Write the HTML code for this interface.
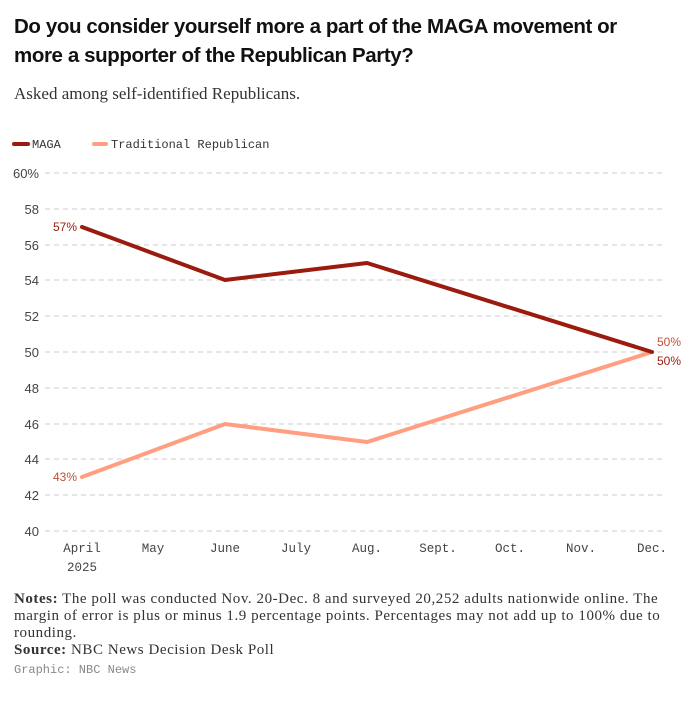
<!DOCTYPE html><html><head><style>
body{margin:0;width:696px;height:705px;background:#fff;font-family:"Liberation Sans",sans-serif;color:#111;position:relative;overflow:hidden}
.t{position:absolute;left:14px;top:12px;font-size:20.5px;font-weight:bold;line-height:29px;letter-spacing:-0.4px;width:650px}
.s{position:absolute;left:14px;top:84px;font-family:"Liberation Serif",serif;font-size:17px;color:#333}
.n{position:absolute;left:14px;top:591px;width:668px;font-family:"Liberation Serif",serif;font-size:15px;letter-spacing:0.55px;line-height:17px;color:#333}
.m{font-family:"Liberation Mono",monospace}
</style></head><body>
<div class="t">Do you consider yourself more a part of the MAGA movement or more a supporter of the Republican Party?</div>
<div class="s">Asked among self-identified Republicans.</div>
<svg width="696" height="705" style="position:absolute;left:0;top:0">
<g font-family="Liberation Mono,monospace" font-size="12" fill="#333">
<line x1="14" y1="144" x2="28" y2="144" stroke="#9b1c0f" stroke-width="4" stroke-linecap="round"/>
<text x="32" y="148">MAGA</text>
<line x1="94" y1="144" x2="106" y2="144" stroke="#ff9f80" stroke-width="4" stroke-linecap="round"/>
<text x="111" y="148">Traditional Republican</text>
</g>
<g stroke="#ccc" stroke-dasharray="5,4" stroke-width="1">
<line x1="45" x2="665" y1="173" y2="173"/><line x1="45" x2="665" y1="209" y2="209"/><line x1="45" x2="665" y1="245" y2="245"/><line x1="45" x2="665" y1="280" y2="280"/><line x1="45" x2="665" y1="316" y2="316"/><line x1="45" x2="665" y1="352" y2="352"/><line x1="45" x2="665" y1="388" y2="388"/><line x1="45" x2="665" y1="424" y2="424"/><line x1="45" x2="665" y1="459" y2="459"/><line x1="45" x2="665" y1="495" y2="495"/><line x1="45" x2="665" y1="531" y2="531"/>
</g>
<g font-family="Liberation Sans,sans-serif" font-size="13" fill="#444" text-anchor="end">
<text x="39" y="178">60%</text><text x="39" y="214">58</text><text x="39" y="250">56</text><text x="39" y="285">54</text><text x="39" y="321">52</text><text x="39" y="357">50</text><text x="39" y="393">48</text><text x="39" y="429">46</text><text x="39" y="464">44</text><text x="39" y="500">42</text><text x="39" y="536">40</text>
</g>
<g font-family="Liberation Mono,monospace" font-size="12.5" fill="#444" text-anchor="middle">
<text x="82" y="552">April</text><text x="82" y="571">2025</text><text x="153" y="552">May</text><text x="225" y="552">June</text><text x="296" y="552">July</text><text x="367" y="552">Aug.</text><text x="438" y="552">Sept.</text><text x="510" y="552">Oct.</text><text x="581" y="552">Nov.</text><text x="652" y="552">Dec.</text>
</g>
<polyline points="82,477 225,424 367,442 652,352" fill="none" stroke="#ff9f80" stroke-width="4" stroke-linejoin="round" stroke-linecap="round"/>
<polyline points="82,227 225,280 367,263 652,352" fill="none" stroke="#9b1c0f" stroke-width="4" stroke-linejoin="round" stroke-linecap="round"/>
<g font-family="Liberation Sans,sans-serif" font-size="12">
<text x="77" y="231" text-anchor="end" fill="#9b1c0f">57%</text>
<text x="77" y="481" text-anchor="end" fill="#c0503a">43%</text>
<text x="657" y="346" fill="#c0503a">50%</text>
<text x="657" y="365" fill="#9b1c0f">50%</text>
</g>
</svg>
<div class="n"><b>Notes:</b> The poll was conducted Nov. 20-Dec. 8 and surveyed 20,252 adults nationwide online. The margin of error is plus or minus 1.9 percentage points. Percentages may not add up to 100% due to rounding.<br><b>Source:</b> NBC News Decision Desk Poll<br><span class="m" style="font-size:12px;color:#888;line-height:22px;letter-spacing:0">Graphic: NBC News</span></div>
</body></html>
